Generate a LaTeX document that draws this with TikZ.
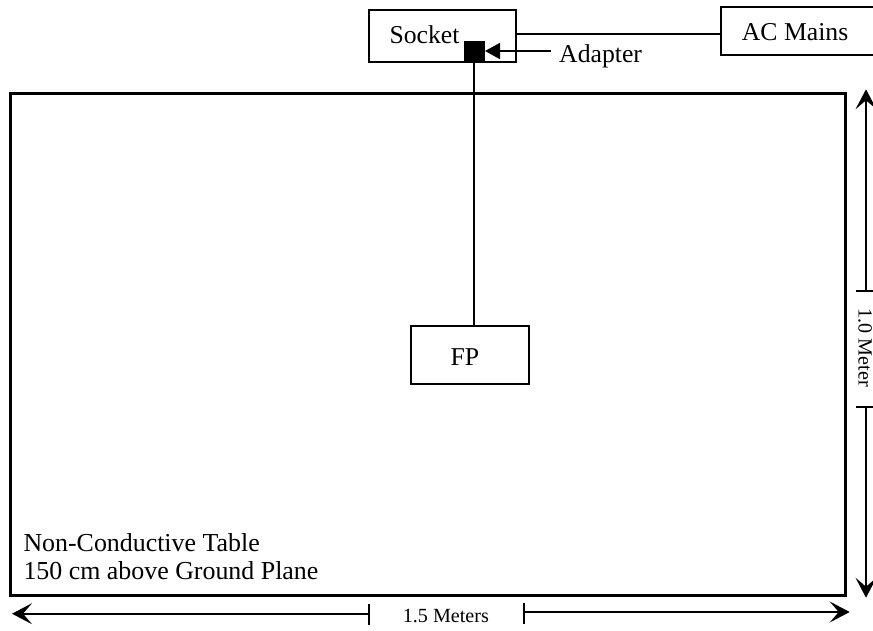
\documentclass[tikz,border=0pt]{standalone}
\usepackage{fontspec}
\setmainfont{Liberation Serif}
\usetikzlibrary{arrows.meta}
\tikzset{
  px/.style={x=1pt,y=-1pt},
  boxthin/.style={draw=black,line width=1.7pt,fill=none,outer sep=0pt,inner sep=0pt,anchor=north west},
  wire/.style={draw=black,line width=1.7pt},
  dimline/.style={draw=black,line width=1.7pt},
  openhead/.style={-{Stealth[inset=9pt,length=20pt,width=21pt]}},
  solidhead/.style={-{Triangle[length=15pt,width=16pt]}},
  lab/.style={inner sep=0pt,anchor=base west,font=\fontsize{25.7}{30}\selectfont},
  tablab/.style={inner sep=0pt,anchor=base west,font=\fontsize{25.9}{30}\selectfont},
  dimlab/.style={inner sep=0pt,font=\fontsize{20.1}{24}\selectfont},
}
\begin{document}
\begin{tikzpicture}[px]
\useasboundingbox (0,0) rectangle (873,630);
\fill[white] (0,0) rectangle (873,630);
\node[draw=black,line width=3pt,outer sep=0pt,minimum width=835pt,minimum height=501.5pt,inner sep=0pt,anchor=north west] (table) at (10.5,93.5) {};
\node[boxthin,minimum width=147pt,minimum height=51.4pt] (socket) at (368.7,10.3) {};
\node[boxthin,minimum width=160pt,minimum height=47.7pt] (mains) at (721.3,7.3) {};
\node[boxthin,minimum width=118pt,minimum height=58pt] (fp) at (411,326) {};
\node[fill=black,outer sep=0pt,minimum width=20.7pt,minimum height=21pt,inner sep=0pt,anchor=north west] (adapter) at (464.3,41) {};
\node[lab] (socketlab) at (389.3,43.3) {Socket};
\node[lab] (mainslab) at (741.7,40.7) {AC Mains};
\node[lab] (adapterlab) at (559,62.3) {Adapter};
\node[lab] (fplab) at (450.5,365) {FP};
\node[tablab] (tablelab1) at (23.3,551.7) {Non-Conductive Table};
\node[tablab] (tablelab2) at (23.3,579.3) {150 cm above Ground Plane};
\node[dimlab,anchor=base west] (widthlab) at (402.7,622.7) {1.5 Meters};
\node[dimlab,anchor=base west,rotate=-90] (heightlab) at (858.5,308.5) {1.0 Meter};
\coordinate (wa) at (mains.west |- 0,33.7);
\coordinate (wb) at (socket.east |- 0,33.7);
\draw[wire] (wb) -- (wa);
\draw[wire] (adapter.south -| 474,0) -- (fp.north -| 474,0);
\coordinate (aa) at (550.7,51);
\draw[wire,solidhead] (aa) -- (adapter.east |- aa);
% vertical dimension
\coordinate (vt) at (866,89.3);
\coordinate (vb) at (866,597.7);
\coordinate (v1) at (866,290.7);
\coordinate (v2) at (866,407.3);
\draw[dimline,openhead] (v1) -- (vt);
\draw[dimline,openhead] (v2) -- (vb);
\draw[dimline] (856,290.7) -- (876,290.7);
\draw[dimline] (856,407.3) -- (876,407.3);
% horizontal dimension
\coordinate (hl) at (12,613.7);
\coordinate (hr) at (849.7,612);
\coordinate (h1) at (369,613.7);
\coordinate (h2) at (524.3,612);
\draw[dimline,openhead] (h1) -- (hl);
\draw[dimline,openhead] (h2) -- (hr);
\draw[dimline] (369,604) -- (369,624.5);
\draw[dimline] (524.3,603) -- (524.3,623.5);
\end{tikzpicture}
\end{document}
